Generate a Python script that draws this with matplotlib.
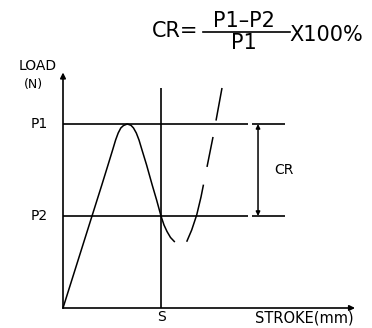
import matplotlib
matplotlib.use("Agg")
import matplotlib.pyplot as plt
from matplotlib.lines import Line2D

# values (stroke in arbitrary units, S = 50; load with P1 = 100)
P1 = 100
P2 = 50
S = 50

# loading curve (solid)
stroke_load = [0, 14.80, 19.80, 22.96, 25.31, 26.84, 28.16, 29.49, 30.87, 32.81,
               34.69, 35.97, 37.40, 38.78, 40.31, 42.65, 45.51, 47.76, 50.0,
               51.53, 53.06, 54.85, 56.79]
load_load = [0, 50.0, 66.85, 77.72, 85.87, 91.30, 95.11, 97.83, 99.18, 100,
             99.29, 97.83, 95.11, 91.30, 85.87, 77.72, 66.85, 58.70, 50.0,
             45.11, 41.58, 38.32, 36.14]

# return curve (long dashes)
stroke_ret = [63.1, 65.66, 68.21, 70.41, 71.63, 76.53, 81.12]
load_ret = [36.0, 42.39, 50.54, 60.33, 66.85, 92.93, 119.57]

plt.rcParams['font.family'] = ['DejaVu Sans']
plt.rcParams['lines.scale_dashes'] = False

W, H = 372, 328
fig = plt.figure(figsize=(W / 100, H / 100), dpi=100, facecolor='w')
ax = fig.add_axes([0, 0, 1, 1])
ax.set_xlim(-63 / 1.96, (W - 63) / 1.96)
ax.set_ylim(-(H - 308) / 1.84, 308 / 1.84)
ax.set_axis_off()

k = dict(color='black', lw=1.2, solid_capstyle='butt')

# axes with arrows
arrow = dict(arrowstyle='-|>', lw=1.2, color='black', mutation_scale=8,
             shrinkA=0, shrinkB=0)
ax.annotate('', xy=(149, 0), xytext=(0, 0), arrowprops=arrow)
ax.annotate('', xy=(0, 128), xytext=(0, 0), arrowprops=arrow)

# P1 / P2 reference lines (small break left of the CR arrow)
for p in (P1, P2):
    ax.plot([0, 94.4], [p, p], **k)
    ax.plot([96.4, 113.3], [p, p], **k)

# S line
ax.plot([S, S], [0, 119.6], **k)

# curves
ax.plot(stroke_load, load_load, color='black', lw=1.1, solid_joinstyle='round')
ret, = ax.plot(stroke_ret, load_ret, color='black', lw=1.1, solid_joinstyle='round')
ret.set_dashes([43, 13, 22, 12, 24, 100])

# CR dimension arrow
ax.annotate('', xy=(99.5, P1), xytext=(99.5, P2),
            arrowprops=dict(arrowstyle='<|-|>', lw=1.1, color='black',
                            mutation_scale=6, shrinkA=0, shrinkB=0))
ax.text(112.8, 75, 'CR', fontsize=10, ha='center', va='center')

# labels
ax.text(-12.8, 131.5, 'LOAD', fontsize=10, ha='center', va='center')
ax.text(-15.3, 121.7, '(N)', fontsize=9, ha='center', va='center')
ax.text(-12.2, P1, 'P1', fontsize=10, ha='center', va='center')
ax.text(-12.2, P2, 'P2', fontsize=10, ha='center', va='center')
ax.text(S, -4.7, 'S', fontsize=10, ha='center', va='center')
ax.text(123, -5.4, 'STROKE(mm)', fontsize=10.5, ha='center', va='center')

# formula CR = (P1-P2)/P1 x 100%
def fx(px):
    return px / W

def fy(py):
    return 1 - py / H

fig.text(fx(152), fy(37), 'CR=', fontsize=15, ha='left', va='baseline')
fig.text(fx(244), fy(21), 'P1–P2', fontsize=15, ha='center', va='center')
fig.text(fx(244), fy(43), 'P1', fontsize=15, ha='center', va='center')
fig.add_artist(Line2D([fx(203), fx(290)], [fy(32), fy(32)], color='black', lw=1.2))
fig.text(fx(289), fy(35), 'X100%', fontsize=15, ha='left', va='center')

fig.savefig('out.png', dpi=100, facecolor='w')
